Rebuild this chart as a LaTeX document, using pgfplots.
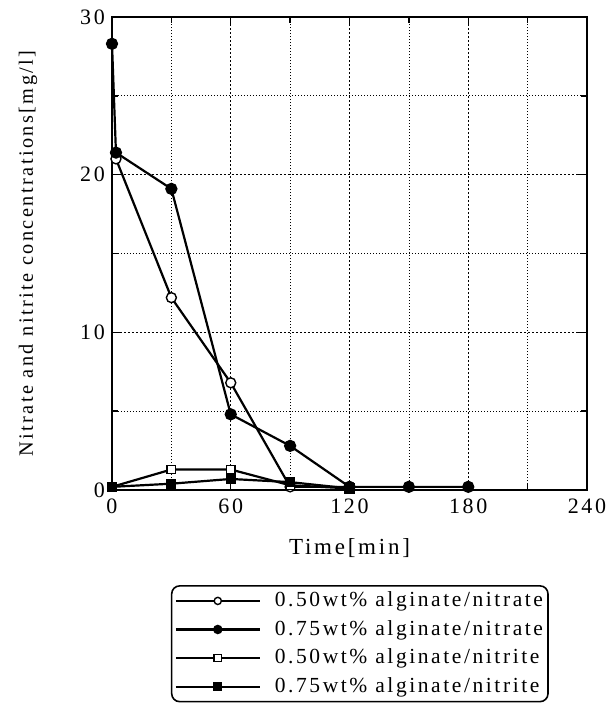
\documentclass[border=0pt]{standalone}
\usepackage{fontspec}
\setmainfont{Liberation Serif}[LetterSpace=12]
\usepackage{pgfplots}
\pgfplotsset{compat=1.18}
\begin{document}
\fontsize{21}{24}\selectfont
\begin{tikzpicture}
\path[use as bounding box] (-112pt,-223pt) rectangle (494pt,490pt);
\begin{axis}[
  at={(0pt,0pt)}, anchor=south west,
  scale only axis, width=475pt, height=473pt,
  xmin=0, xmax=240, ymin=0, ymax=30,
  xtick={0,60,...,240}, minor xtick={30,90,150,210},
  ytick={0,10,20,30}, minor ytick={5,15,25},
  tick align=inside, major tick length=9pt, minor tick length=6pt,
  grid=both,
  major grid style={black, line width=0.8pt, dash pattern=on 2pt off 2pt},
  minor grid style={black, line width=0.7pt, dash pattern=on 1pt off 2pt},
  axis line style={line width=1.8pt},
  every tick/.style={black, line width=1.4pt},
  tick label style={font=\fontsize{22}{24}\selectfont},
  xticklabel style={yshift=-2pt},
  /pgf/number format/assume math mode=true,
  xlabel={Time[min]},
  ylabel={Nitrate and nitrite concentrations[mg/l]},
  xlabel style={at={(axis description cs:0.5,-0.123)}, anchor=center, font=\fontsize{23}{26}\selectfont},
  ylabel style={at={(axis description cs:-0.177,0.5)}, anchor=center, font=\fontsize{20.3}{24}\selectfont},
  clip=false,
  legend cell align=left,
  legend style={at={(axis description cs:0.124,-0.201)}, anchor=north west,
    rounded corners=8pt, draw=black, line width=1.6pt,
    font=\fontsize{21.5}{24}\selectfont, row sep=6.5pt, inner xsep=3pt, inner ysep=4pt,
    /tikz/every odd column/.append style={column sep=12pt}},
  legend image code/.code={\draw[#1, sharp corners, mark repeat=2, mark phase=2, mark size=3.6pt]
     plot coordinates {(0pt,0pt) (42pt,0pt) (84pt,0pt)};},
]
\addplot[black, line width=2.2pt, mark=*, mark size=5pt, mark options={solid, fill=white, line width=1.4pt}] coordinates {
  (2,21.0) (30,12.2) (60,6.8) (90,0.2) (120,0.2)};
\addlegendentry{0.50wt\% alginate/nitrate}
\addplot[black, line width=2.2pt, mark=*, mark size=5pt, mark options={solid, fill=black}] coordinates {
  (0,28.3) (2,21.4) (30,19.1) (60,4.8) (90,2.8) (120,0.2) (150,0.2) (180,0.2)};
\addlegendentry{0.75wt\% alginate/nitrate}
\addplot[black, line width=2.2pt, mark=square*, mark size=4.2pt, mark options={solid, fill=white, line width=1.4pt}] coordinates {
  (0,0.2) (30,1.3) (60,1.3) (90,0.3) (120,0.1)};
\addlegendentry{0.50wt\% alginate/nitrite}
\addplot[black, line width=2.2pt, mark=square*, mark size=4pt, mark options={solid, fill=black}] coordinates {
  (0,0.2) (30,0.4) (60,0.7) (90,0.5) (120,0.1)};
\addlegendentry{0.75wt\% alginate/nitrite}
\end{axis}
\end{tikzpicture}
\end{document}
